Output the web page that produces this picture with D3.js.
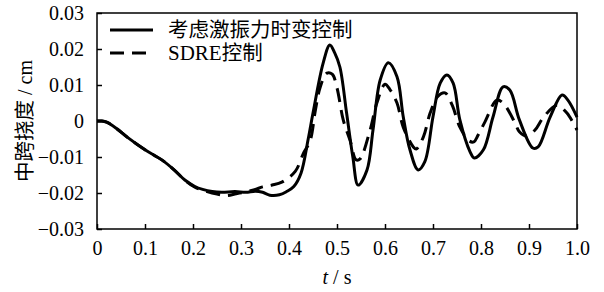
<!DOCTYPE html>
<meta charset="utf-8">
<head>
<script src="https://cdn.jsdelivr.net/npm/d3@7/dist/d3.min.js"></script>
<style>
  body { margin: 0; background: #fff; }
</style>
</head>
<body>
<div id="chart"></div>
<script>
// series: 考虑激振力时变控制 (solid)
var tSolid = [0, 0.01, 0.02, 0.04, 0.065, 0.1, 0.135, 0.16, 0.183, 0.204, 0.22, 0.24, 0.26, 0.2875, 0.31, 0.33, 0.345,
  0.36, 0.38, 0.395, 0.41, 0.425, 0.44, 0.45, 0.471, 0.485, 0.495, 0.506, 0.52, 0.533, 0.544, 0.5625, 0.575, 0.59,
  0.607, 0.625, 0.638, 0.652, 0.669, 0.683, 0.7, 0.715, 0.729, 0.742, 0.756, 0.777, 0.786, 0.805, 0.825, 0.846,
  0.86, 0.88, 0.908, 0.919, 0.944, 0.969, 0.981, 1.0];
var ySolid = [0, 0, -0.0003, -0.002, -0.0047, -0.008, -0.0108, -0.0135, -0.0164, -0.0182, -0.019, -0.0196, -0.0198, -0.0196, -0.0198, -0.0195, -0.0198,
  -0.0206, -0.0205, -0.0196, -0.0182, -0.0145, -0.005, 0.0022, 0.016, 0.0211, 0.019, 0.015, 0.0022, -0.01, -0.0178, -0.0136, -0.0025, 0.0114,
  0.0162, 0.0123, 0.0012, -0.008, -0.0136, -0.0113, 0.0012, 0.0105, 0.0128, 0.0105, 0.0003, -0.0085, -0.0103, -0.008, 0.0011, 0.0095,
  0.0086, 0.0003, -0.0075, -0.0072, 0.0011, 0.0072, 0.0058, 0.0011];

// series: SDRE控制 (dashed)
var tSdre = [0, 0.01, 0.02, 0.04, 0.065, 0.1, 0.135, 0.16, 0.183, 0.204, 0.22, 0.25, 0.27, 0.29, 0.31, 0.33, 0.345,
  0.365, 0.385, 0.413, 0.43, 0.444, 0.455, 0.465, 0.479, 0.49, 0.5, 0.513, 0.527, 0.54, 0.548, 0.569, 0.583, 0.6,
  0.61, 0.625, 0.638, 0.659, 0.665, 0.68, 0.694, 0.71, 0.725, 0.74, 0.756, 0.775, 0.785, 0.794, 0.808, 0.833,
  0.846, 0.87, 0.88, 0.895, 0.9125, 0.929, 0.958, 0.979, 1.0];
var ySdre = [0, 0, -0.0003, -0.002, -0.0047, -0.008, -0.0108, -0.0135, -0.0164, -0.0184, -0.0192, -0.0203, -0.0207, -0.0202, -0.0197, -0.019, -0.0183,
  -0.0178, -0.017, -0.014, -0.009, -0.0055, 0.003, 0.0094, 0.0133, 0.013, 0.0092, 0.0003, -0.0053, -0.0108, -0.0105, -0.0025, 0.005, 0.0102,
  0.0088, 0.005, -0.0017, -0.0072, -0.0078, -0.0044, 0.0022, 0.0068, 0.0078, 0.0044, -0.0017, -0.0055, -0.0058, -0.0039, -0.0003, 0.0058,
  0.005, -0.0003, -0.003, -0.0042, -0.0025, 0.0008, 0.0044, 0.0022, -0.0025];

var xTicks = [0, 0.1, 0.2, 0.3, 0.4, 0.5, 0.6, 0.7, 0.8, 0.9, 1.0];
var xTickLabels = ["0", "0.1", "0.2", "0.3", "0.4", "0.5", "0.6", "0.7", "0.8", "0.9", "1.0"];
var yTicks = [-0.03, -0.02, -0.01, 0, 0.01, 0.02, 0.03];
var yTickLabels = ["\u22120.03", "\u22120.02", "\u22120.01", "0", "0.01", "0.02", "0.03"];

var LAT = "Liberation Serif", CJK = "Noto Sans CJK SC";

var margin = {top: 13, right: 27, bottom: 63, left: 97},
    W = 604, H = 292,
    width = W - margin.left - margin.right,
    height = H - margin.top - margin.bottom;

var svg = d3.select("#chart").append("svg")
    .attr("width", W).attr("height", H)
  .append("g")
    .attr("transform", "translate(" + margin.left + "," + margin.top + ")");

var x = d3.scaleLinear().domain([0, 1]).range([0, width]);
var y = d3.scaleLinear().domain([-0.03, 0.03]).range([height, 0]);

// axes, ticks pointing inward
var xAxis = d3.axisBottom(x).tickValues(xTicks).tickSizeInner(-5).tickSizeOuter(0).tickPadding(12)
    .tickFormat(function(d, i) { return xTickLabels[i]; });
var yAxis = d3.axisLeft(y).tickValues(yTicks).tickSizeInner(-5).tickSizeOuter(0).tickPadding(13)
    .tickFormat(function(d, i) { return yTickLabels[i]; });

svg.append("g").attr("transform", "translate(0," + height + ")").call(xAxis)
    .attr("font-family", LAT).attr("font-size", 20);
svg.append("g").call(yAxis)
    .attr("font-family", LAT).attr("font-size", 20);
svg.selectAll(".domain").remove();
svg.selectAll(".tick line").attr("stroke", "#000").attr("stroke-width", 1.5);
svg.selectAll(".tick text").attr("font-family", LAT).attr("font-size", 20).attr("fill", "#000");

svg.append("rect")
    .attr("width", width).attr("height", height)
    .attr("fill", "none").attr("stroke", "#000").attr("stroke-width", 1.5);

var line = d3.line()
    .x(function(d) { return x(d[0]); })
    .y(function(d) { return y(d[1]); })
    .curve(d3.curveCatmullRom);

var solid = tSolid.map(function(t, i) { return [t, ySolid[i]]; });
var sdre = tSdre.map(function(t, i) { return [t, ySdre[i]]; });

svg.append("path").datum(sdre)
    .attr("d", line).attr("fill", "none").attr("stroke", "#000")
    .attr("stroke-width", 3).attr("stroke-dasharray", "14,8");
svg.append("path").datum(solid)
    .attr("d", line).attr("fill", "none").attr("stroke", "#000")
    .attr("stroke-width", 3);

// legend
var legend = svg.append("g").attr("transform", "translate(13,17)");
legend.append("line").attr("x1", 0).attr("x2", 43).attr("y1", 0).attr("y2", 0)
    .attr("stroke", "#000").attr("stroke-width", 3);
legend.append("line").attr("x1", 0).attr("x2", 43).attr("y1", 23).attr("y2", 23)
    .attr("stroke", "#000").attr("stroke-width", 3).attr("stroke-dasharray", "14,8");
legend.append("text").attr("x", 58).attr("y", 7)
    .attr("font-family", CJK).attr("font-size", 20.5)
    .text("考虑激振力时变控制");
var t2 = legend.append("text").attr("x", 58).attr("y", 30).attr("font-size", 20.5);
t2.append("tspan").attr("font-family", LAT).attr("font-size", 21).text("SDRE");
t2.append("tspan").attr("font-family", CJK).text("控制");

// axis titles
var xl = svg.append("text")
    .attr("x", 240).attr("y", height + 55)
    .attr("text-anchor", "middle")
    .attr("font-family", LAT).attr("font-size", 20);
xl.append("tspan").attr("font-style", "italic").text("t");
xl.append("tspan").text(" / s");

var yl = svg.append("text")
    .attr("transform", "translate(-65," + (height / 2) + ") rotate(-90)")
    .attr("text-anchor", "middle")
    .attr("font-size", 20.5);
yl.append("tspan").attr("font-family", CJK).text("中跨挠度");
yl.append("tspan").attr("font-family", LAT).attr("font-size", 20).text(" / cm");
</script>
</body>
</html>
